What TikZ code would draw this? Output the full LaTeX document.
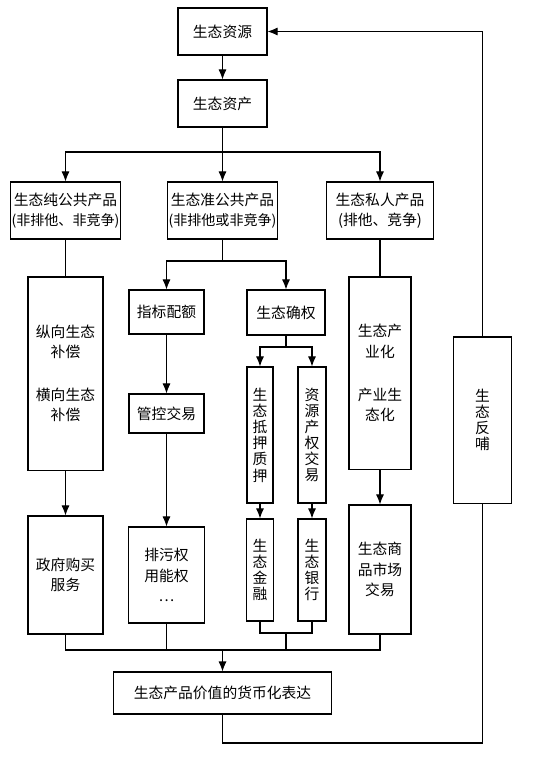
\documentclass[tikz,border=0pt]{standalone}
\usepackage{fontspec}
\usepackage{tikz}
\usetikzlibrary{positioning, arrows.meta, calc}
\setmainfont{Noto Sans CJK SC}
\newfontfamily\cjk{Noto Sans CJK SC}

\begin{document}
\begin{tikzpicture}[x=0.025cm, y=-0.025cm, line width=0.75pt,
  font=\cjk\fontsize{10.5pt}{14.5pt}\selectfont,
  box/.style={rectangle, draw=black, inner sep=1pt, align=center},
  vbox/.style={box, font=\cjk\fontsize{10.5pt}{11.5pt}\selectfont},
  arr/.style={-{Latex[length=2.5mm, width=2mm]}}]
  \useasboundingbox (0,0) rectangle (555,757);

  \node[box, minimum width=2.225cm, minimum height=1.175cm] (src) at (222.5,31.5) {生态资源};
  \node[box, minimum width=2.225cm, minimum height=1.175cm] (asset) at (222.5,103.5) {生态资产};

  \node[box, minimum width=2.725cm, minimum height=1.425cm] (pure) at (65.5,210.5) {生态纯公共产品\\{\fontsize{10pt}{14.5pt}\selectfont (非排他、非竞争)}};
  \node[box, minimum width=2.7cm, minimum height=1.425cm] (quasi) at (222.5,210.5) {生态准公共产品\\{\fontsize{10pt}{14.5pt}\selectfont (非排他或非竞争)}};
  \node[box, minimum width=2.675cm, minimum height=1.425cm] (priv) at (380,210.5) {生态私人产品\\(排他、竞争)};

  \node[box, minimum width=1.875cm, minimum height=4.825cm] (comp) at (65.5,373.5) {纵向生态\\补偿\\[16pt]横向生态\\补偿};
  \node[box, minimum width=1.875cm, minimum height=1.1cm] (quota) at (166.5,312) {指标配额};
  \node[box, minimum width=1.95cm, minimum height=1.125cm] (confirm) at (286,312.5) {生态确权};
  \node[box, minimum width=1.875cm, minimum height=0.975cm] (ctrl) at (166.5,413.5) {管控交易};
  \node[vbox, minimum width=0.65cm, minimum height=3.4cm] (pledge) at (260,435) {生\\态\\抵\\押\\质\\押};
  \node[vbox, minimum width=0.7cm, minimum height=3.4cm] (rtrade) at (312,435) {资\\源\\产\\权\\交\\易};
  \node[box, minimum width=1.55cm, minimum height=4.8cm] (ind) at (380,373) {生态产\\业化\\[16pt]产业生\\态化};
  \node[vbox, minimum width=1.45cm, minimum height=4.15cm] (feed) at (482.5,420) {生\\态\\反\\哺};

  \node[box, minimum width=1.875cm, minimum height=2.95cm] (gov) at (65.5,575) {政府购买\\服务};
  \node[box, minimum width=1.9cm, minimum height=2.4cm] (emis) at (166.5,575) {排污权\\用能权\\…};
  \node[vbox, minimum width=0.675cm, minimum height=2.55cm] (fin) at (260,570) {生\\态\\金\\融};
  \node[vbox, minimum width=0.7cm, minimum height=2.55cm] (bank) at (312,570) {生\\态\\银\\行};
  \node[box, minimum width=1.55cm, minimum height=3.225cm] (mkt) at (380,569.5) {生态商\\品市场\\交易};

  \node[box, minimum width=5.45cm, minimum height=1.05cm] (value) at (222.5,693) {生态产品价值的货币化表达};

  \coordinate (s1) at (222.5,152);
  \coordinate (s2) at (222.5,261);
  \coordinate (s3) at (286,347);
  \coordinate (m1) at (286,633);
  \coordinate (m2) at (222.5,650);
  \coordinate (f1) at (482.5,743);

  \draw[arr] (src) -- (asset);
  \draw (asset) -- (s1);
  \draw[arr] (s1) -| (pure);
  \draw[arr] (s1) -- (quasi);
  \draw[arr] (s1) -| (priv);

  \draw (pure) -- (comp);
  \draw[arr] (comp) -- (gov);

  \draw (quasi) -- (s2);
  \draw[arr] (s2) -| (quota);
  \draw[arr] (s2) -| (confirm);
  \draw[arr] (quota) -- (ctrl);
  \draw[arr] (ctrl) -- (emis);
  \draw (confirm) -- (s3);
  \draw[arr] (s3) -| (pledge);
  \draw[arr] (s3) -| (rtrade);
  \draw[arr] (pledge) -- (fin);
  \draw[arr] (rtrade) -- (bank);

  \draw (priv) -- (ind);
  \draw[arr] (ind) -- (mkt);

  \draw (fin) |- (m1) -| (bank);
  \draw (gov) |- (m2) -| (mkt);
  \draw (emis) -- (emis |- m2);
  \draw (m1) -- (m1 |- m2);
  \draw[arr] (m2) -- (value);

  \draw (value) |- (f1) -- (feed);
  \draw[arr] (feed) |- (src);
\end{tikzpicture}
\end{document}
